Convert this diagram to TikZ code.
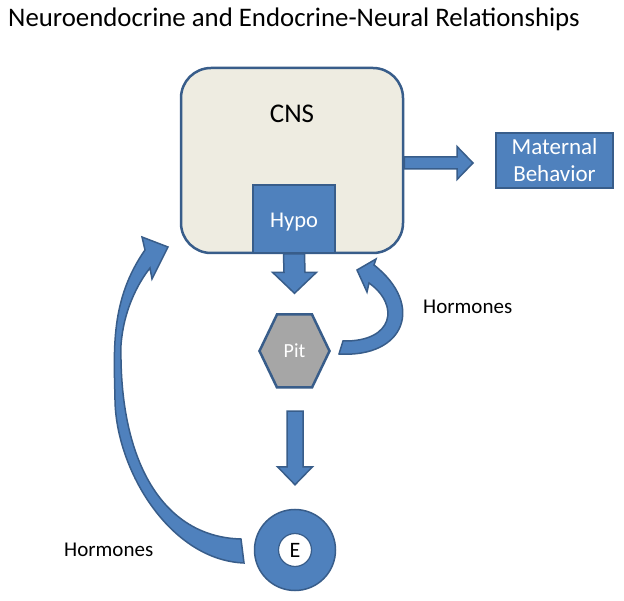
\documentclass[tikz,border=0pt]{standalone}
\usepackage{fontspec}
\setmainfont{Carlito}
\usetikzlibrary{calc}
\definecolor{accent}{HTML}{4F81BD}
\definecolor{edgeblue}{HTML}{385D8A}
\definecolor{cnsfill}{HTML}{EEECE1}
\definecolor{pitfill}{HTML}{A6A6A6}
\begin{document}
\begin{tikzpicture}[x=1pt,y=-1pt,
  blockarrow/.style={fill=accent, draw=edgeblue, line width=1.5pt, line join=miter},
  cnsbox/.style={fill=cnsfill, draw=edgeblue, line width=2.5pt, rounded corners=30pt, inner sep=0pt},
  bluebox/.style={fill=accent, draw=edgeblue, line width=2pt, inner sep=0pt, text=white},
  plain/.style={inner sep=0pt, text=black}]
\useasboundingbox (0,0) rectangle (624,601);
\fill[white] (0,0) rectangle (624,601);

% title
\node[plain, anchor=base west, font=\fontsize{26.8}{30}\selectfont] (title) at (8,27) {Neuroendocrine and Endocrine-Neural Relationships};

% CNS
\node[cnsbox, minimum width=222pt, minimum height=185pt] (cns) at (292,160.5) {};
\node[plain, anchor=base, font=\fontsize{27}{32}\selectfont] (cnslabel) at (292,123) {CNS};

% Hypo
\node[bluebox, minimum width=82pt, minimum height=68pt] (hypo) at (294,219) {};
\node[plain, anchor=base, text=white, font=\fontsize{22.5}{27}\selectfont] (hypolabel) at (294,228) {Hypo};

% Maternal behavior
\node[bluebox, minimum width=117pt, minimum height=55pt, align=center,
      font=\fontsize{23}{27}\selectfont] (maternal) at (554.5,160.5) {Maternal\\Behavior};

% Pit hexagon
\coordinate (pitc) at (294.5,351);
\draw[fill=pitfill, draw=edgeblue, line width=2.5pt, line join=miter]
  ($(pitc)+(-35,0)$) -- ($(pitc)+(-17.5,-36.5)$) -- ($(pitc)+(17.5,-36.5)$) --
  ($(pitc)+(35,0)$) -- ($(pitc)+(17.5,36.5)$) -- ($(pitc)+(-17.5,36.5)$) -- cycle;
\node[plain, text=white, minimum width=70pt, minimum height=73pt, font=\fontsize{20}{24}\selectfont] (pit) at (pitc) {Pit};

% E donut
\node[circle, fill=accent, draw=edgeblue, line width=1.5pt, minimum size=81pt, inner sep=0pt] (eouter) at (295,550) {};
\node[circle, fill=white, draw=edgeblue, line width=1.2pt, minimum size=33pt, inner sep=0pt,
      font=\fontsize{22}{26}\selectfont] (e) at (295,550) {E};

% Hormones labels
\node[plain, anchor=base west, font=\fontsize{21}{25}\selectfont] (hormR) at (423,314) {Hormones};
\node[plain, anchor=base west, font=\fontsize{21}{25}\selectfont] (hormL) at (64,556) {Hormones};

% CNS -> Maternal behavior
\coordinate (s1) at ($(cns.east)+(0,2.5)$);
\coordinate (t1) at ($(maternal.west)+(-22,2.5)$);
\draw[blockarrow] ($(s1)+(0,-6)$) -- ($(t1)+(-16,-6)$) -- ($(t1)+(-16,-16.5)$) -- (t1)
  -- ($(t1)+(-16,16.5)$) -- ($(t1)+(-16,6)$) -- ($(s1)+(0,6)$) -- cycle;

% Hypo -> Pit
\coordinate (s2) at (hypo.south);
\coordinate (t2) at ($(pit.north)+(0,-21)$);
\draw[blockarrow] ($(s2)+(-10.5,0)$) -- ($(t2)+(-10.5,-21)$) -- ($(t2)+(-22,-21)$) -- (t2)
  -- ($(t2)+(22,-21)$) -- ($(t2)+(10.5,-21)$) -- ($(s2)+(10.5,0)$) -- cycle;

% Pit -> E
\coordinate (s3) at ($(pit.south)+(0.5,23.5)$);
\coordinate (t3) at ($(eouter.north)+(0,-24)$);
\draw[blockarrow] ($(s3)+(-8,0)$) -- ($(t3)+(-8,-18)$) -- ($(t3)+(-17.5,-18)$) -- (t3)
  -- ($(t3)+(17.5,-18)$) -- ($(t3)+(8,-18)$) -- ($(s3)+(8,0)$) -- cycle;

% Pit -> CNS curved (hormones)
\draw[blockarrow]
  (339,354) .. controls (405,358) and (425,305) .. (374,265)
  -- (376,259) -- (357,270) -- (367,292) -- (369,283)
  .. controls (400,305) and (394,342) .. (343,341) -- cycle;

% E -> CNS curved (hormones)
\draw[blockarrow]
  (244,563) .. controls (170,560) and (116,470) .. (115,400)
  .. controls (114,350) and (110,300) .. (145,250)
  -- (142,237) -- (168,247) -- (152,279) -- (150,268)
  .. controls (142,278) and (124,305) .. (121,345)
  .. controls (119,460) and (162,537) .. (241,539) -- cycle;
\end{tikzpicture}
\end{document}
